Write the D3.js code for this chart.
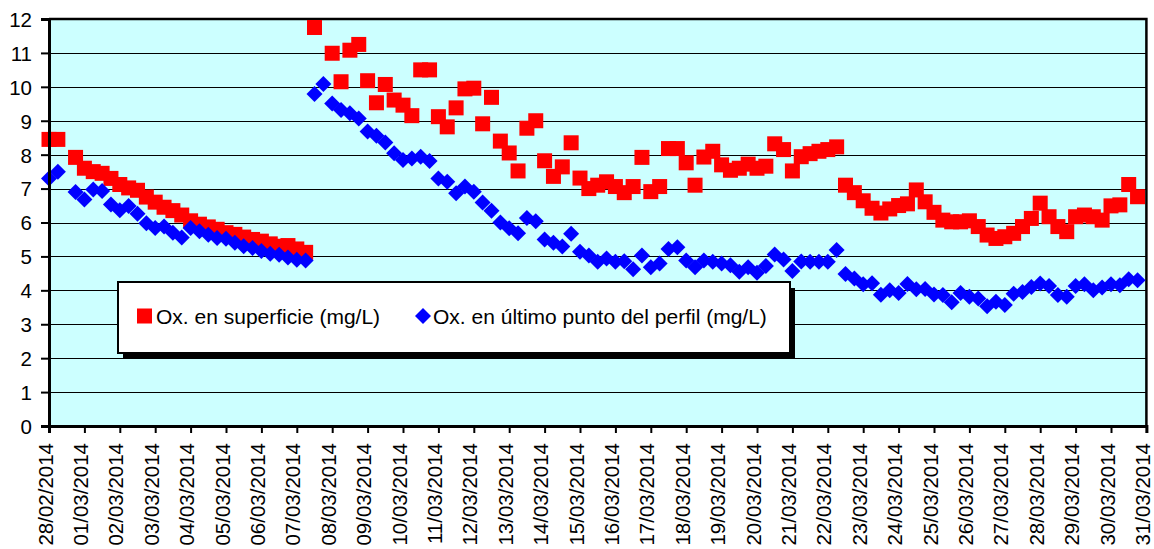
<!DOCTYPE html>
<html><head><meta charset="utf-8">
<script src="https://cdn.jsdelivr.net/npm/d3@7"></script>
<style>
html,body{margin:0;padding:0;background:#fff;}
svg{display:block;font-family:"Liberation Sans",Arial,sans-serif;}
</style></head>
<body>
<svg id="c" width="1154" height="549"></svg>
<script>
// ---- data (4 readings per day, every 6 h, starting 28/02/2014 00:00) ----
const dayLabels = ["28/02/2014","01/03/2014","02/03/2014","03/03/2014","04/03/2014","05/03/2014","06/03/2014","07/03/2014","08/03/2014","09/03/2014","10/03/2014","11/03/2014","12/03/2014","13/03/2014","14/03/2014","15/03/2014","16/03/2014","17/03/2014","18/03/2014","19/03/2014","20/03/2014","21/03/2014","22/03/2014","23/03/2014","24/03/2014","25/03/2014","26/03/2014","27/03/2014","28/03/2014","29/03/2014","30/03/2014","31/03/2014"];
const yTicks = [0,1,2,3,4,5,6,7,8,9,10,11,12];
const seriesNames = ["Ox. en superficie (mg/L)","Ox. en último punto del perfil (mg/L)"];

const superficie = [
8.45,8.45,null,7.92,7.6,7.5,7.45,7.3,7.12,7.02,6.95,6.75,6.6,6.45,6.35,6.22,6.05,5.95,5.87,5.8,
5.7,5.65,5.57,5.5,5.45,5.37,5.3,5.32,5.22,5.12,
11.75,null,10.99,10.15,11.08,11.25,10.18,9.53,10.07,9.61,9.46,9.15,10.5,10.5,9.12,8.82,9.38,9.94,9.96,8.91,
9.69,8.4,8.05,7.52,8.78,9.0,7.82,7.36,7.64,8.35,7.31,7.0,7.1,7.2,7.06,6.88,7.06,7.92,6.91,7.06,
8.18,8.18,7.76,7.1,7.93,8.1,7.7,7.54,7.6,7.72,7.6,7.66,8.32,8.15,7.52,7.94,8.03,8.1,8.15,8.23,
7.1,6.88,6.64,6.42,6.28,6.4,6.5,6.55,6.96,6.61,6.3,6.07,6.02,6.02,6.05,5.88,5.63,5.53,5.58,5.68,
5.88,6.12,6.57,6.17,5.88,5.73,6.17,6.22,6.17,6.07,6.49,6.52,7.12,6.76];

const ultimo = [
7.3,7.5,null,6.9,6.68,6.97,6.93,6.53,6.36,6.49,6.26,5.98,5.84,5.88,5.7,5.56,5.84,5.74,5.64,5.54,
5.52,5.4,5.3,5.25,5.16,5.08,5.05,4.97,4.9,4.88,
9.79,10.08,9.51,9.32,9.22,9.07,8.68,8.56,8.36,8.04,7.84,7.89,7.94,7.81,7.3,7.2,6.86,7.06,6.91,6.59,
6.35,6.0,5.83,5.68,6.13,6.04,5.5,5.4,5.29,5.67,5.14,5.03,4.84,4.94,4.84,4.86,4.62,5.03,4.68,4.79,
5.22,5.27,4.88,4.68,4.88,4.84,4.79,4.74,4.55,4.68,4.52,4.72,5.06,4.91,4.57,4.85,4.84,4.84,4.84,5.19,
4.48,4.35,4.18,4.21,3.87,4.0,3.92,4.19,4.03,4.04,3.88,3.86,3.65,3.92,3.81,3.76,3.53,3.66,3.57,3.9,
3.95,4.1,4.2,4.13,3.86,3.81,4.13,4.18,4.0,4.08,4.18,4.15,4.33,4.3];

const perDay = 4;

// ---- layout ----
const svg = d3.select("#c");
const L = 49, R = 1146.4, T = 19, B = 426;
const FS = "20.5px";
const FSL = "21px";

const x = d3.scaleLinear().domain([0, (dayLabels.length - 1) * perDay]).range([L, R]);
const y = d3.scaleLinear().domain([0, 12]).range([B, T]);

// plot background
svg.append("rect").attr("x", L).attr("y", T).attr("width", R - L).attr("height", B - T)
  .attr("fill", "#ccffff");

// gridlines
svg.append("g").selectAll("line").data(yTicks.filter(v => v > 0 && v < 12)).join("line")
  .attr("x1", L).attr("x2", R)
  .attr("y1", d => Math.round(y(d)) + 0.5).attr("y2", d => Math.round(y(d)) + 0.5)
  .attr("stroke", "#000").attr("stroke-width", 1.2);

// border (top & right)
svg.append("path")
  .attr("d", `M${L},${T}H${R}V${B}`)
  .attr("fill", "none").attr("stroke", "#000").attr("stroke-width", 2.5);

// markers - red squares
const s = 7.5;
svg.append("g").selectAll("rect")
  .data(superficie.map((v, i) => ({v, i})).filter(d => d.v != null))
  .join("rect")
  .attr("x", d => x(d.i) - s).attr("y", d => y(d.v) - s)
  .attr("width", 2 * s).attr("height", 2 * s)
  .attr("fill", "#ff0000");

// markers - blue diamonds
const h = 8;
svg.append("g").selectAll("path")
  .data(ultimo.map((v, i) => ({v, i})).filter(d => d.v != null))
  .join("path")
  .attr("d", d => { const cx = x(d.i), cy = y(d.v); return `M${cx},${cy - h}L${cx + h},${cy}L${cx},${cy + h}L${cx - h},${cy}Z`; })
  .attr("fill", "#0000ff");

// y axis
const gy = svg.append("g").attr("transform", `translate(${L},0)`)
  .call(d3.axisLeft(y).tickValues(yTicks).tickFormat(d3.format("d")).tickSize(8).tickPadding(9));
gy.select(".domain").attr("stroke", "#000").attr("stroke-width", 3);
gy.selectAll(".tick line").attr("stroke", "#000").attr("stroke-width", 2);
gy.selectAll(".tick text").attr("font-size", FS).attr("fill", "#000")
  .attr("font-family", "Liberation Sans, Arial, sans-serif").attr("dy", "0.36em");

// x axis
const gx = svg.append("g").attr("transform", `translate(0,${B})`)
  .call(d3.axisBottom(x).tickValues(d3.range(0, dayLabels.length).map(k => k * perDay))
    .tickFormat(d => dayLabels[d / perDay]).tickSize(7));
gx.select(".domain").attr("stroke", "#000").attr("stroke-width", 3);
gx.selectAll(".tick line").attr("stroke", "#000").attr("stroke-width", 2);
gx.selectAll(".tick text").attr("font-size", FS).attr("fill", "#000")
  .attr("font-family", "Liberation Sans, Arial, sans-serif")
  .attr("transform", "rotate(-90)")
  .attr("text-anchor", "end").attr("x", -17).attr("y", 0).attr("dy", "0.15em");

// legend
const lg = svg.append("g");
const lx = 118, ly = 282, lw = 672, lh = 71;
lg.append("rect").attr("x", lx + 5).attr("y", ly + 6).attr("width", lw).attr("height", lh).attr("fill", "#000");
lg.append("rect").attr("x", lx).attr("y", ly).attr("width", lw).attr("height", lh)
  .attr("fill", "#fff").attr("stroke", "#000").attr("stroke-width", 2);
const lcy = 316;
lg.append("rect").attr("x", 137).attr("y", lcy - 7.5).attr("width", 15).attr("height", 15).attr("fill", "#ff0000");
lg.append("text").attr("x", 156).attr("y", lcy + 7.5).attr("font-size", FSL).text(seriesNames[0]);
lg.append("path").attr("d", `M423,${lcy - 8}L431,${lcy}L423,${lcy + 8}L415,${lcy}Z`).attr("fill", "#0000ff");
lg.append("text").attr("x", 433).attr("y", lcy + 7.5).attr("font-size", FSL).text(seriesNames[1]);
</script>
</body></html>
